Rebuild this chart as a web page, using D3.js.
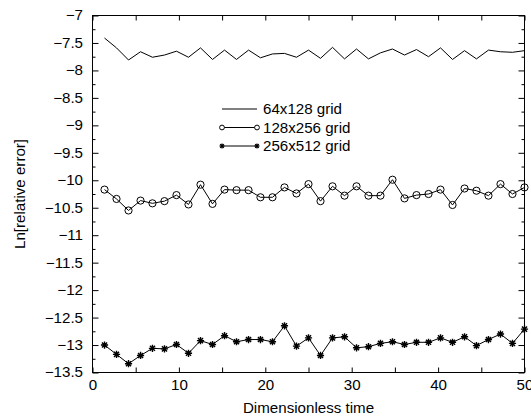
<!DOCTYPE html>
<html>
<head>
<meta charset="utf-8">
<script src="https://cdn.jsdelivr.net/npm/d3@7"></script>
<style>
  html, body { margin: 0; padding: 0; background: #fff; }
  svg { display: block; }
  text { font-family: "Liberation Sans", Arial, Helvetica, sans-serif; fill: #000; }
</style>
</head>
<body>
<svg id="chart" width="531" height="416"></svg>
<script>
// Sample times (dimensionless)
const times = [1.39, 2.78, 4.17, 5.56, 6.94, 8.33, 9.72, 11.11, 12.5, 13.89, 15.28, 16.67,
  18.06, 19.44, 20.83, 22.22, 23.61, 25, 26.39, 27.78, 29.17, 30.56, 31.94, 33.33,
  34.72, 36.11, 37.5, 38.89, 40.28, 41.67, 43.06, 44.44, 45.83, 47.22, 48.61, 50];

// Ln of relative error per grid resolution
const err64 = [-7.41, -7.59, -7.81, -7.66, -7.76, -7.72, -7.65, -7.76, -7.59, -7.80, -7.63, -7.80,
  -7.63, -7.77, -7.70, -7.69, -7.76, -7.63, -7.78, -7.58, -7.79, -7.61, -7.79, -7.68,
  -7.61, -7.72, -7.62, -7.75, -7.59, -7.80, -7.64, -7.79, -7.63, -7.66, -7.67, -7.64];
const err128 = [-10.17, -10.34, -10.55, -10.37, -10.42, -10.38, -10.27, -10.44, -10.08, -10.43, -10.17, -10.18,
  -10.18, -10.31, -10.31, -10.13, -10.24, -10.07, -10.38, -10.11, -10.28, -10.11, -10.28, -10.28,
  -9.99, -10.33, -10.27, -10.25, -10.17, -10.45, -10.15, -10.19, -10.28, -10.07, -10.25, -10.13];
const err256 = [-13.00, -13.17, -13.34, -13.19, -13.06, -13.07, -12.99, -13.15, -12.92, -12.99, -12.83, -12.94,
  -12.90, -12.90, -12.94, -12.65, -13.02, -12.87, -13.19, -12.87, -12.85, -13.05, -13.03, -12.97,
  -12.94, -12.99, -12.95, -12.95, -12.87, -12.95, -12.85, -13.01, -12.90, -12.80, -12.97, -12.71];

const seriesNames = ["64x128 grid", "128x256 grid", "256x512 grid"];

// Axis ticks
const xTicks = [0, 5, 10, 15, 20, 25, 30, 35, 40, 45, 50];
const xTickLabels = [0, 10, 20, 30, 40, 50];
const yTicks = [-7, -7.5, -8, -8.5, -9, -9.5, -10, -10.5, -11, -11.5, -12, -12.5, -13, -13.5];
const yMinorTicks = [-7.25, -7.75, -8.25, -8.75, -9.25, -9.75, -10.25, -10.75, -11.25, -11.75, -12.25, -12.75, -13.25];

const xTitle = "Dimensionless time";
const yTitle = "Ln[relative error]";

const svg = d3.select("#chart");
const plotLeft = 92.5, plotRight = 524.5, plotTop = 15.5, plotBottom = 372.5;

const x = d3.scaleLinear().domain([0, 50]).range([plotLeft, plotRight]);
const y = d3.scaleLinear().domain([-13.5, -7]).range([plotBottom, plotTop]);

const fmt = d3.format("");
const FONT = 14;

// Axes with inward ticks
function styleAxis(g) {
  g.select(".domain").remove();
  g.selectAll(".tick line").attr("stroke", "#000").attr("stroke-width", 1);
  g.selectAll("text").attr("font-size", FONT).attr("font-family", null);
}

svg.append("g").attr("transform", `translate(${plotLeft},0)`)
  .call(d3.axisLeft(y).tickValues(yTicks).tickSize(-6).tickPadding(9.5).tickFormat(fmt))
  .call(styleAxis);
svg.append("g").attr("transform", `translate(${plotLeft},0)`)
  .call(d3.axisLeft(y).tickValues(yMinorTicks).tickSize(-3).tickFormat(""))
  .call(styleAxis);
svg.append("g").attr("transform", `translate(${plotRight},0)`)
  .call(d3.axisRight(y).tickValues(yTicks).tickSize(-6).tickFormat(""))
  .call(styleAxis);
svg.append("g").attr("transform", `translate(${plotRight},0)`)
  .call(d3.axisRight(y).tickValues(yMinorTicks).tickSize(-3).tickFormat(""))
  .call(styleAxis);

svg.append("g").attr("transform", `translate(0,${plotBottom})`)
  .call(d3.axisBottom(x).tickValues(xTicks).tickSize(-5).tickPadding(7.5)
    .tickFormat(d => xTickLabels.includes(d) ? fmt(d) : ""))
  .call(styleAxis);
svg.append("g").attr("transform", `translate(0,${plotTop})`)
  .call(d3.axisTop(x).tickValues(xTicks).tickSize(-5).tickFormat(""))
  .call(styleAxis);

// Plot frame
svg.append("rect")
  .attr("x", plotLeft).attr("y", plotTop)
  .attr("width", plotRight - plotLeft).attr("height", plotBottom - plotTop)
  .attr("fill", "none").attr("stroke", "#000").attr("stroke-width", 1);

// Axis titles
svg.append("text")
  .attr("x", (plotLeft + plotRight) / 2).attr("y", 412.5)
  .attr("text-anchor", "middle").attr("font-size", FONT)
  .text(xTitle);
svg.append("text")
  .attr("transform", `translate(24.5,${(plotTop + plotBottom) / 2}) rotate(-90)`)
  .attr("text-anchor", "middle").attr("font-size", FONT)
  .text(yTitle);

// Series
const line = d3.line().x((d, i) => x(times[i])).y(d => y(d));

function starPath(cx, cy, r) {
  const d = r * Math.SQRT1_2;
  return `M${cx - r},${cy}L${cx + r},${cy}M${cx},${cy - r}L${cx},${cy + r}` +
         `M${cx - d},${cy - d}L${cx + d},${cy + d}M${cx - d},${cy + d}L${cx + d},${cy - d}`;
}

const plot = svg.append("g");

plot.append("path").datum(err64).attr("d", line)
  .attr("fill", "none").attr("stroke", "#000").attr("stroke-width", 1);

plot.append("path").datum(err128).attr("d", line)
  .attr("fill", "none").attr("stroke", "#000").attr("stroke-width", 1);
plot.append("g").selectAll("circle").data(err128).join("circle")
  .attr("cx", (d, i) => x(times[i])).attr("cy", d => y(d)).attr("r", 3.6)
  .attr("fill", "none").attr("stroke", "#000").attr("stroke-width", 1);

plot.append("path").datum(err256).attr("d", line)
  .attr("fill", "none").attr("stroke", "#000").attr("stroke-width", 1);
plot.append("g").selectAll("path").data(err256).join("path")
  .attr("d", (d, i) => starPath(x(times[i]), y(d), 3.6))
  .attr("fill", "none").attr("stroke", "#000").attr("stroke-width", 1.4);

// Legend
const legend = svg.append("g");
const legRows = [109, 127.5, 146];
const lx0 = 222, lx1 = 257, ltx = 263;

seriesNames.forEach((name, k) => {
  const ly = legRows[k];
  legend.append("line")
    .attr("x1", lx0).attr("x2", lx1).attr("y1", ly).attr("y2", ly)
    .attr("stroke", "#000").attr("stroke-width", 1);
  if (k === 1) {
    [lx0, lx1].forEach(px => legend.append("circle")
      .attr("cx", px).attr("cy", ly).attr("r", 2.4)
      .attr("fill", "#fff").attr("stroke", "#000").attr("stroke-width", 1));
  }
  if (k === 2) {
    [lx0, lx1].forEach(px => legend.append("path")
      .attr("d", starPath(px, ly, 2.6))
      .attr("stroke", "#000").attr("stroke-width", 1.2));
  }
  legend.append("text")
    .attr("x", ltx).attr("y", ly + 5)
    .attr("font-size", FONT)
    .text(name);
});

// Slightly widen glyph runs to the printed letter proportions
svg.selectAll("text").each(function () {
  const len = this.getComputedTextLength();
  if (len > 0) {
    d3.select(this).attr("textLength", len * 1.08).attr("lengthAdjust", "spacingAndGlyphs");
  }
});
</script>
</body>
</html>
